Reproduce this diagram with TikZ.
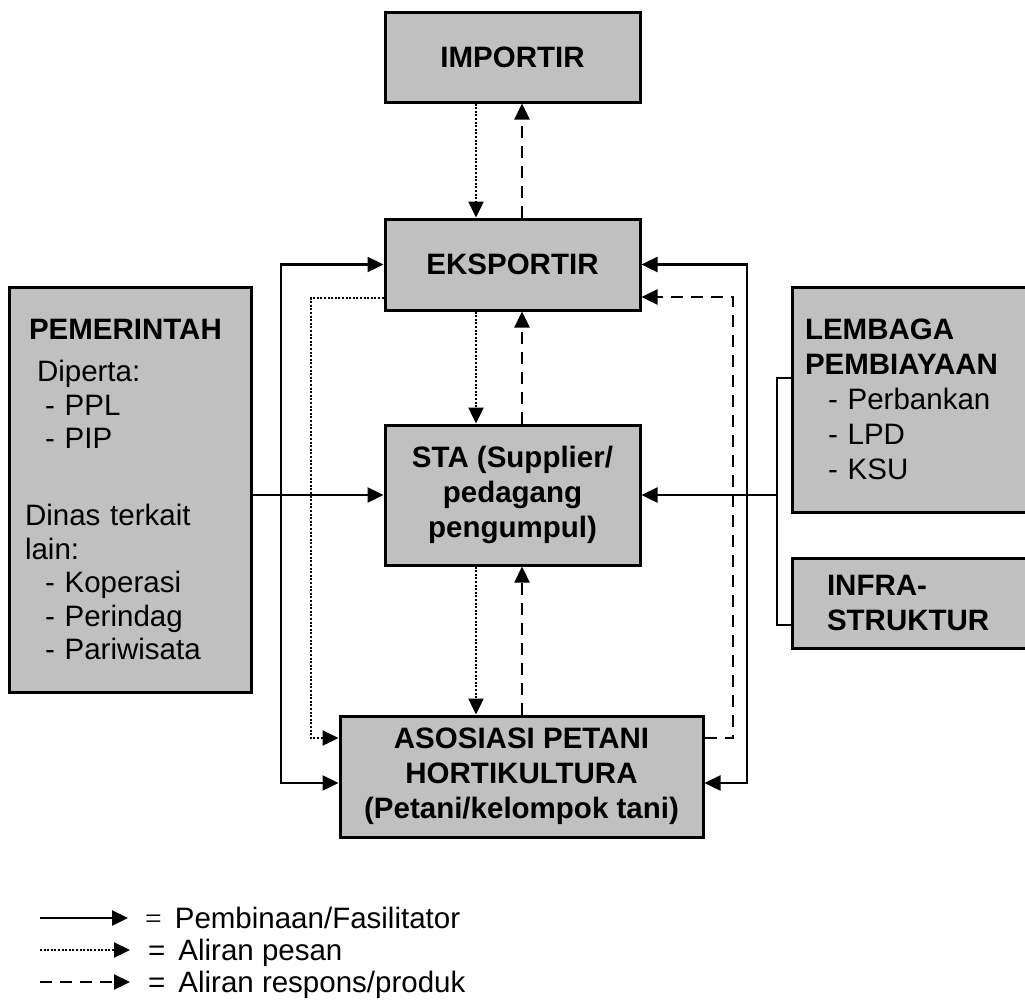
\documentclass[tikz,border=0pt]{standalone}
\usepackage{fontspec}
\setmainfont{Liberation Sans}
\newfontfamily\eqfont{Liberation Serif}
\usetikzlibrary{arrows.meta}
\definecolor{boxgray}{RGB}{192,192,192}

\begin{document}
\begin{tikzpicture}[x=1pt, y=-1pt,
    box/.style={draw=black, line width=3pt, fill=boxgray, inner sep=0pt, align=center,
        font=\fontsize{29.5}{35}\selectfont\bfseries},
    listbox/.style={box, align=left, font=\fontsize{29.5}{35}\selectfont},
    tip/.style={-{Triangle[length=16pt,width=15pt]}},
    tips/.style={{Triangle[length=16pt,width=15pt]}-{Triangle[length=16pt,width=15pt]}},
    fasil/.style={line width=2.4pt},
    pesan/.style={line width=2.4pt, dash pattern=on 2pt off 1.6pt},
    respon/.style={line width=2.4pt, dash pattern=on 12pt off 8pt},
    legtext/.style={anchor=base west, inner sep=0pt, font=\fontsize{29.5}{35}\selectfont}]
\useasboundingbox (0,0) rectangle (1025,1004);
\clip (0,0) rectangle (1025,1004);
\node[box, minimum width=255pt, minimum height=90pt] (imp) at (512.5,57) {IMPORTIR};
\node[box, minimum width=255pt, minimum height=91pt] (eks) at (512.5,264.5) {EKSPORTIR};
\node[box, minimum width=255pt, minimum height=140pt] (sta) at (512.5,495) {STA (Supplier/\\pedagang\\pengumpul)};
\node[box, minimum width=363pt, minimum height=121pt] (aso) at (521.5,776.5) {ASOSIASI PETANI\\HORTIKULTURA\\(Petani/kelompok tani)};
\node[listbox, font=\fontsize{29.5}{33.5}\selectfont, text width=210pt, minimum width=242pt, minimum height=405pt] (pem) at (130,489.5)
    {\hspace*{4pt}\textbf{PEMERINTAH}\\[8.5pt]
     \hspace*{12pt}Diperta:\\
     \hspace*{20pt}- PPL\\
     \hspace*{20pt}- PIP\\[43.5pt]
     Dinas terkait\\
     lain:\\
     \hspace*{20pt}- Koperasi\\
     \hspace*{20pt}- Perindag\\
     \hspace*{20pt}- Pariwisata};
\node[listbox, text width=214pt, minimum width=240pt, minimum height=225pt] (lem) at (912,399.5)
    {\textbf{LEMBAGA}\\
     \textbf{PEMBIAYAAN}\\
     \hspace*{23pt}- Perbankan\\
     \hspace*{23pt}- LPD\\
     \hspace*{23pt}- KSU};
\node[listbox, text width=170pt, minimum width=240pt, minimum height=90pt] (inf) at (912,603)
    {\textbf{INFRA-}\\\textbf{STRUKTUR}};

\coordinate (lk) at (281,0);
\coordinate (ld) at (311,0);
\coordinate (rk) at (747,0);
\coordinate (rd) at (733,0);
\coordinate (bk) at (777,0);
\coordinate (eksL) at ([yshift=-33.5pt]eks.west);
\coordinate (eksR) at ([yshift=-32.5pt]eks.east);
\coordinate (asoL) at ([yshift=-6.5pt]aso.west);
\coordinate (asoLd) at ([yshift=38.5pt]aso.west);
\coordinate (asoR) at ([yshift=-6.5pt]aso.east);
\coordinate (asoRd) at ([yshift=38.5pt]aso.east);
\coordinate (lemL) at ([yshift=21.5pt]lem.west);
\coordinate (infL) at ([yshift=-22pt]inf.west);

\draw[pesan, tip] ([xshift=-36.5pt]imp.south) -- ([xshift=-36.5pt]eks.north);
\draw[respon, tip] ([xshift=9.5pt]eks.north) -- ([xshift=9.5pt]imp.south);
\draw[pesan, tip] ([xshift=-36.5pt]eks.south) -- ([xshift=-36.5pt]sta.north);
\draw[respon, tip] ([xshift=9.5pt]sta.north) -- ([xshift=9.5pt]eks.south);
\draw[pesan, tip] ([xshift=-36.5pt]sta.south) -- ([xshift=-36.5pt]sta.south |- aso.north);
\draw[respon, tip] ([xshift=9.5pt]sta.south |- aso.north) -- ([xshift=9.5pt]sta.south);

\draw[fasil, tips] (eks.west) -- (eks.west -| lk) -- (lk |- asoL) -- (asoL);
\draw[pesan, tip] (eksL) -- (eksL -| ld) -- (ld |- asoLd) -- (asoLd);
\draw[fasil, tips] (eks.east) -- (eks.east -| rk) -- (rk |- asoR) -- (asoR);
\draw[respon, tip] (asoRd) -- (asoRd -| rd) -- (rd |- eksR) -- (eksR);

\draw[fasil, tip] (pem.east |- sta.west) -- (sta.west);
\draw[fasil] (lemL) -- (lemL -| bk) -- (bk |- infL) -- (infL);
\draw[fasil, tip] (bk |- sta.east) -- (sta.east);

\coordinate (f1) at (40,918);
\coordinate (f2) at (128,918);
\coordinate (p1) at (40,950);
\coordinate (p2) at (130,950);
\coordinate (r1) at (40,982);
\coordinate (r2) at (130,982);
\draw[fasil, tip] (f1) -- (f2);
\draw[pesan, tip] (p1) -- (p2);
\draw[respon, tip] (r1) -- (r2);
\node[legtext] (lf) at (145,928.5) {{\eqfont=}\hspace{13pt}Pembinaan/Fasilitator};
\node[legtext] (lp) at (148,960.5) {=\hspace{13pt}Aliran pesan};
\node[legtext] (lr) at (148,992.5) {=\hspace{13pt}Aliran respons/produk};
\end{tikzpicture}
\end{document}
